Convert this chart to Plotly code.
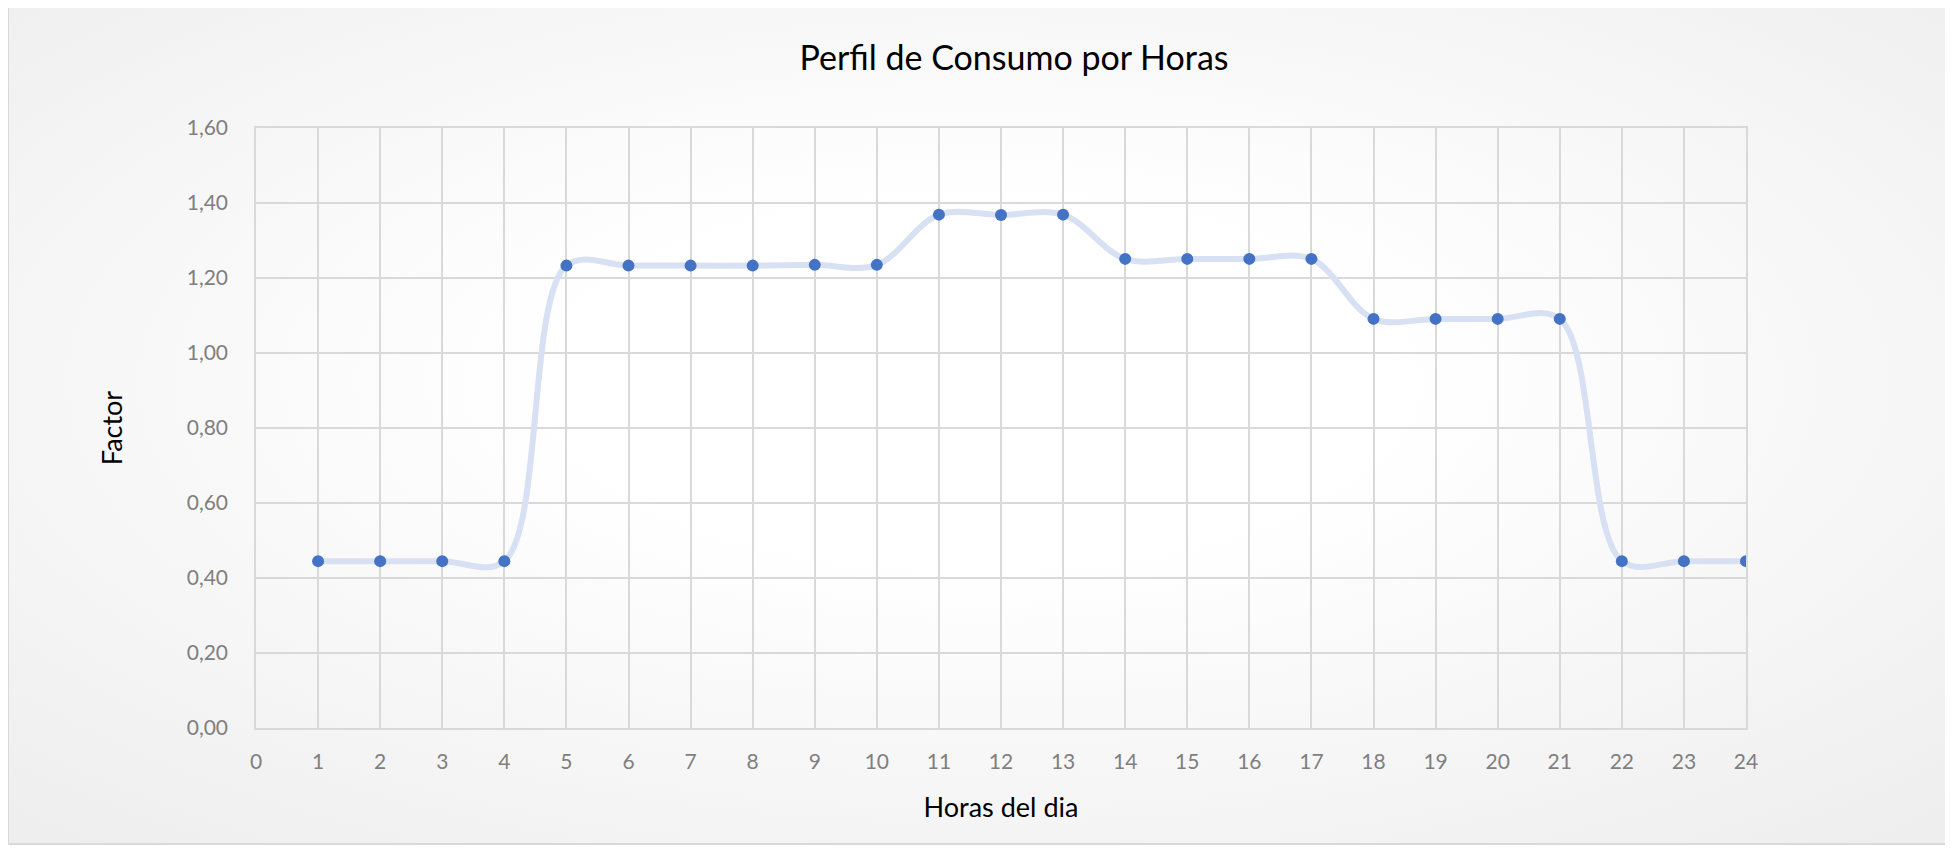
import base64
import plotly.graph_objects as go

# horas del dia y factor de consumo
horas = list(range(1, 25))
factor = [0.445, 0.445, 0.445, 0.445,
          1.233, 1.233, 1.233, 1.233, 1.235, 1.235,
          1.369, 1.368, 1.369,
          1.251, 1.251, 1.251, 1.251,
          1.091, 1.091, 1.091, 1.091,
          0.445, 0.445, 0.445]
y_ticks = [0.0, 0.2, 0.4, 0.6, 0.8, 1.0, 1.2, 1.4, 1.6]
x_ticks = list(range(0, 25))

W, H = 1953, 848
OFF = 8  # page body margin of the browser
L, R, T, B = 256 - OFF, 1746 - OFF, 128 - OFF, 728 - OFF   # plot area in pixels
pw, ph = R - L, B - T


def px(x):
    return (x - L) / pw


def py(y):
    return (B - y) / ph


# radial gradient background of the chart frame
svg = (
    '<svg xmlns="http://www.w3.org/2000/svg" width="1939" height="839" '
    'preserveAspectRatio="none" viewBox="0 0 1939 839">'
    '<defs><radialGradient id="g" cx="50%" cy="45%" r="72%">'
    '<stop offset="0" stop-color="#ffffff"/>'
    '<stop offset="0.3" stop-color="#ffffff"/>'
    '<stop offset="1" stop-color="#eeeeee"/>'
    '</radialGradient></defs>'
    '<rect width="1939" height="839" fill="url(#g)"/></svg>'
)
bg_src = "data:image/svg+xml;base64," + base64.b64encode(svg.encode()).decode()

fx0, fx1, fy0, fy1 = 8 - OFF, 1947 - OFF, 5 - OFF, 844 - OFF

fig = go.Figure()
fig.add_trace(go.Scatter(
    x=horas, y=factor, mode="lines+markers",
    line=dict(shape="spline", smoothing=1.0, color="#D7E1F3", width=6),
    marker=dict(color="#4472C4", size=12),
    showlegend=False, hoverinfo="x+y",
))

grid = "#D9D9D9"
fnt = "Lato, Open Sans, sans-serif"
tick_font = dict(family=fnt, size=21, color="#7F7F7F")

fig.update_layout(
    width=W, height=H,
    margin=dict(l=L, r=W - R, t=T, b=H - B),
    paper_bgcolor="white",
    plot_bgcolor="rgba(0,0,0,0)",
    separators=",.",
    title=dict(text="Perfil de Consumo por Horas", xref="container", yref="container",
               x=(1014 - OFF) / W, y=1 - (58 - OFF) / H, xanchor="center", yanchor="middle",
               font=dict(family=fnt, size=34, color="#000000")),
    xaxis=dict(range=[0, 24], tickvals=x_ticks, showgrid=True, gridcolor=grid, gridwidth=1.5,
               showline=True, linecolor=grid, linewidth=1.5, mirror=True, zeroline=False,
               ticks="", ticklabelstandoff=14, tickfont=tick_font,
               title=dict(text="Horas del dia", standoff=26,
                          font=dict(family=fnt, size=27, color="#000000"))),
    yaxis=dict(range=[0, 1.6], tickvals=y_ticks, tickformat=".2f", showgrid=True,
               gridcolor=grid, gridwidth=1.5, showline=True, linecolor=grid, linewidth=1.5,
               mirror=True, zeroline=False, ticks="", ticklabelstandoff=22, tickfont=tick_font,
               title=dict(text="Factor", standoff=56,
                          font=dict(family=fnt, size=27, color="#000000"))),
    images=[dict(source=bg_src, xref="paper", yref="paper", x=px(fx0), y=py(fy0),
                 sizex=px(fx1) - px(fx0), sizey=py(fy0) - py(fy1),
                 xanchor="left", yanchor="top", sizing="stretch", layer="below")],
    shapes=[dict(type="rect", xref="paper", yref="paper", x0=px(fx0), x1=px(fx1),
                 y0=py(fy1), y1=py(fy0), line=dict(color="#D9D9D9", width=2),
                 fillcolor="rgba(0,0,0,0)", layer="above")],
)

fig.write_html("out.html")
